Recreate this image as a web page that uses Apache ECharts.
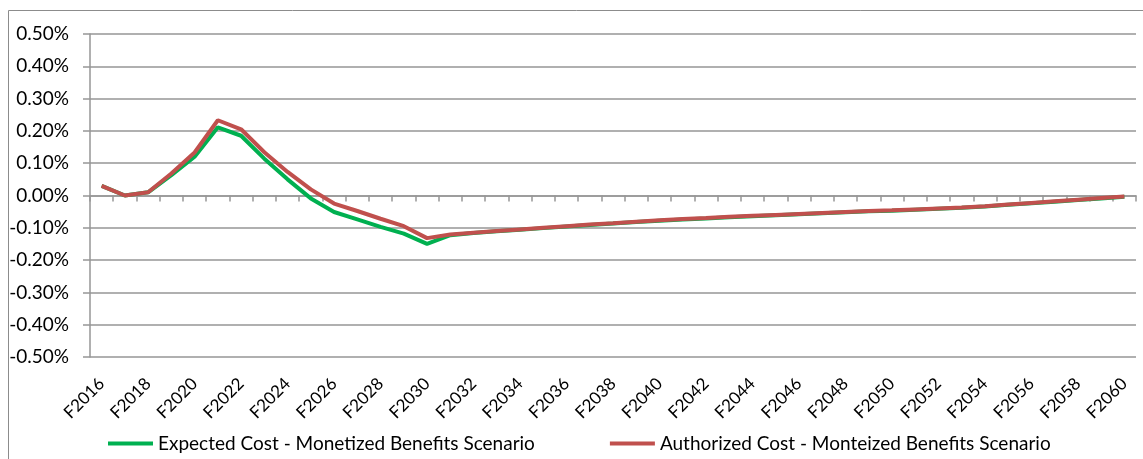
<!DOCTYPE html>
<html>
<head>
<meta charset="utf-8">
<script src="https://cdn.jsdelivr.net/npm/echarts@6/dist/echarts.min.js"></script>
<style>
  html, body { margin: 0; padding: 0; background: #fff; }
  #chart { width: 1143px; height: 459px; }
</style>
</head>
<body>
<div id="chart"></div>
<script>
  // fiscal years F2016 .. F2060
  const years = [];
  for (let y = 2016; y <= 2060; y++) years.push('F' + y);

  // values in percent (0.03 => 0.03%)
  const expectedCost = [
    0.030, 0.000, 0.010, 0.063, 0.120, 0.211, 0.185, 0.114, 0.050, -0.009,
    -0.051, -0.074, -0.097, -0.118, -0.150, -0.123, -0.116, -0.111, -0.106, -0.101,
    -0.096, -0.091, -0.087, -0.082, -0.078, -0.074, -0.071, -0.067, -0.064, -0.061,
    -0.058, -0.055, -0.052, -0.049, -0.047, -0.044, -0.041, -0.038, -0.034, -0.029,
    -0.024, -0.019, -0.014, -0.009, -0.004
  ];
  const authorizedCost = [
    0.030, 0.000, 0.010, 0.068, 0.133, 0.233, 0.205, 0.134, 0.073, 0.019,
    -0.025, -0.048, -0.072, -0.095, -0.132, -0.121, -0.115, -0.110, -0.105, -0.100,
    -0.095, -0.090, -0.086, -0.081, -0.077, -0.073, -0.070, -0.066, -0.063, -0.060,
    -0.057, -0.054, -0.051, -0.048, -0.046, -0.043, -0.040, -0.037, -0.033, -0.028,
    -0.023, -0.018, -0.013, -0.008, -0.003
  ];

  const font = 'Lato';
  const gridColor = '#969696';

  let chart = echarts.init(document.getElementById('chart'), null, {renderer: 'canvas'});
  chart.setOption({
    animation: false,
    graphic: [{
      type: 'rect',
      shape: {x: 8.5, y: 10.5, width: 1200, height: 500},
      style: {fill: 'none', stroke: '#8c8c8c', lineWidth: 1},
      silent: true
    }],
    grid: {left: 90, right: 7, top: 34, bottom: 102},
    legend: {
      top: 429,
      left: 103,
      itemGap: 75,
      itemWidth: 45,
      itemHeight: 4,
      icon: 'rect',
      textStyle: {fontFamily: font, fontSize: 19, color: '#000'},
      data: ['Expected Cost - Monetized Benefits Scenario', 'Authorized Cost - Monteized Benefits Scenario']
    },
    xAxis: [{
      type: 'category',
      data: years,
      position: 'bottom',
      boundaryGap: true,
      axisLine: {onZero: true, lineStyle: {color: gridColor, width: 1.5}},
      axisTick: {show: true, interval: 0, length: 6, lineStyle: {color: gridColor, width: 1.5}},
      axisLabel: {show: false},
      splitLine: {show: false}
    }, {
      type: 'category',
      data: years,
      position: 'bottom',
      boundaryGap: true,
      axisLine: {show: false, onZero: false},
      axisTick: {show: false},
      axisLabel: {
        interval: 1,
        rotate: 45,
        margin: 24,
        fontFamily: font,
        fontSize: 17,
        color: '#000'
      }
    }],
    yAxis: {
      type: 'value',
      min: -0.5,
      max: 0.5,
      interval: 0.1,
      axisLine: {show: true, lineStyle: {color: gridColor, width: 1.5}},
      axisTick: {show: true, length: 7, lineStyle: {color: gridColor, width: 1.5}},
      axisLabel: {
        fontFamily: font,
        fontSize: 19,
        color: '#000',
        margin: 21,
        formatter: function (v) { return v.toFixed(2) + '%'; }
      },
      splitLine: {lineStyle: {color: gridColor, width: 1.5}}
    },
    series: [{
      name: 'Expected Cost - Monetized Benefits Scenario',
      type: 'line',
      xAxisIndex: 0,
      data: expectedCost,
      symbol: 'none',
      lineStyle: {color: '#00B050', width: 4},
      itemStyle: {color: '#00B050'}
    }, {
      name: 'Authorized Cost - Monteized Benefits Scenario',
      type: 'line',
      xAxisIndex: 0,
      data: authorizedCost,
      symbol: 'none',
      lineStyle: {color: '#C0504D', width: 4},
      itemStyle: {color: '#C0504D'}
    }]
  });
</script>
</body>
</html>
